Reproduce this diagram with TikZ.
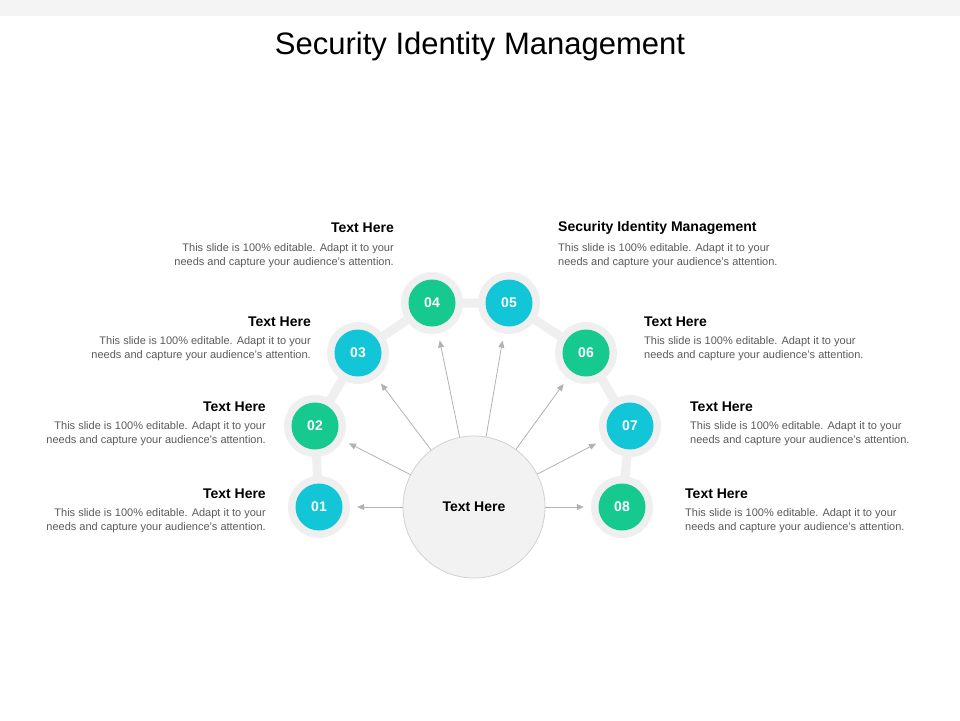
\documentclass[tikz,border=0pt]{standalone}
\usepackage{fontspec}
\setmainfont{Liberation Sans}
\usetikzlibrary{arrows.meta}
\definecolor{cy}{HTML}{12C6D8}
\definecolor{gr}{HTML}{16C98E}
\definecolor{band}{HTML}{EFEFEF}
\definecolor{bodyc}{HTML}{5A5A5A}
\begin{document}
\begin{tikzpicture}[x=1pt,y=-1pt,
 halo/.style={circle,fill=band,minimum size=62pt,inner sep=0pt},
 num/.style={circle,minimum size=47pt,inner sep=0pt,text=white,font=\fontsize{14}{16}\selectfont\bfseries},
 head/.style={font=\fontsize{14}{16}\selectfont\bfseries,inner sep=0pt},
 body/.style={font=\fontsize{11}{14}\selectfont,text=bodyc,inner sep=0pt},
 arr/.style={draw=gray!60,line width=0.8pt,-{Triangle[length=7pt,width=6pt]},shorten >=7pt}]
\useasboundingbox (0,0) rectangle (960,720);
\fill[band!70] (0,0) rectangle (960,16);
\node[font=\fontsize{31}{36}\selectfont] (title) at (480,46) {Security Identity Management};
% band
\draw[band,line width=9pt,line join=round] (319,507)--(315,426)--(358,353)--(432,303)--(509,303)--(586,353)--(630,426)--(622,507);
\foreach \n/\x/\y in {1/319/507,2/315/426,3/358/353,4/432/303,5/509/303,6/586/353,7/630/426,8/622/507}
  \node[halo] (h\n) at (\x,\y) {};
\node[num,fill=cy] (n1) at (h1) {01};
\node[num,fill=gr] (n2) at (h2) {02};
\node[num,fill=cy] (n3) at (h3) {03};
\node[num,fill=gr] (n4) at (h4) {04};
\node[num,fill=cy] (n5) at (h5) {05};
\node[num,fill=gr] (n6) at (h6) {06};
\node[num,fill=cy] (n7) at (h7) {07};
\node[num,fill=gr] (n8) at (h8) {08};
\node[circle,fill=black!5,draw=black!18,line width=0.8pt,minimum size=142pt,inner sep=0pt,font=\fontsize{14}{16}\selectfont\bfseries] (c) at (474,507) {Text Here};
\foreach \n in {1,...,8} \draw[arr] (c) -- (h\n);
% texts left
\node[head,anchor=east] (t1) at (266,494) {Text Here};
\node[body,anchor=north east,align=right] (b1) at (266,508) {This slide is 100\% editable. Adapt it to your\\needs and capture your audience's attention.};
\node[head,anchor=east] (t2) at (266,407) {Text Here};
\node[body,anchor=north east,align=right] (b2) at (266,421) {This slide is 100\% editable. Adapt it to your\\needs and capture your audience's attention.};
\node[head,anchor=east] (t3) at (311,322) {Text Here};
\node[body,anchor=north east,align=right] (b3) at (311,336) {This slide is 100\% editable. Adapt it to your\\needs and capture your audience's attention.};
\node[head,anchor=east] (t4) at (394,228) {Text Here};
\node[body,anchor=north east,align=right] (b4) at (394,243) {This slide is 100\% editable. Adapt it to your\\needs and capture your audience's attention.};
% texts right
\node[head,anchor=west] (t5) at (558,228) {Security Identity Management};
\node[body,anchor=north west,align=left] (b5) at (558,243) {This slide is 100\% editable. Adapt it to your\\needs and capture your audience's attention.};
\node[head,anchor=west] (t6) at (644,322) {Text Here};
\node[body,anchor=north west,align=left] (b6) at (644,336) {This slide is 100\% editable. Adapt it to your\\needs and capture your audience's attention.};
\node[head,anchor=west] (t7) at (690,407) {Text Here};
\node[body,anchor=north west,align=left] (b7) at (690,421) {This slide is 100\% editable. Adapt it to your\\needs and capture your audience's attention.};
\node[head,anchor=west] (t8) at (685,494) {Text Here};
\node[body,anchor=north west,align=left] (b8) at (685,508) {This slide is 100\% editable. Adapt it to your\\needs and capture your audience's attention.};
\end{tikzpicture}
\end{document}
